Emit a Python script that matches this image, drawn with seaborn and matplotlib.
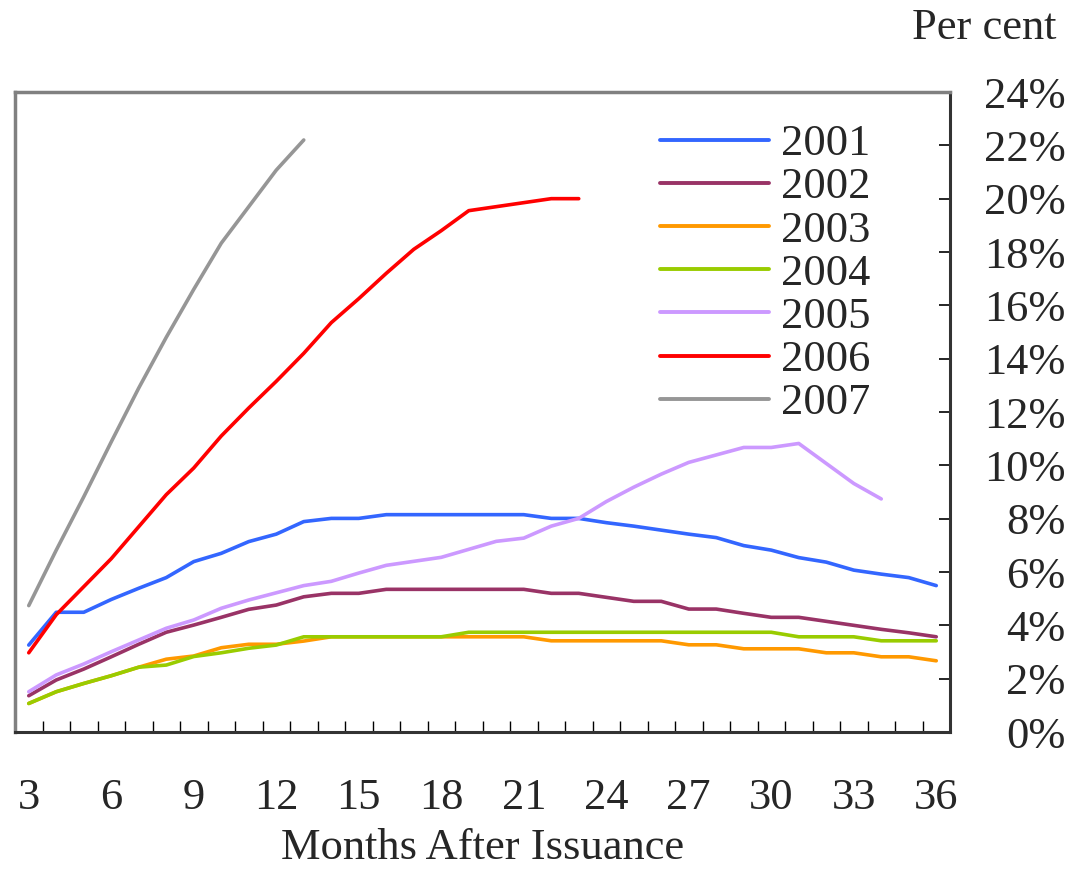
import numpy as np
import pandas as pd
import matplotlib
matplotlib.use("Agg")
import matplotlib.pyplot as plt
import seaborn as sns

# Months after issuance (category axis) and the yearly series, in per cent
months = list(range(3, 37))
tick_months = list(range(3, 37, 3))

rate_2001 = [3.26, 4.49, 4.49, 4.97, 5.39, 5.79, 6.39, 6.7, 7.14, 7.42, 7.89, 8.01, 8.01,
             8.15, 8.15, 8.15, 8.15, 8.15, 8.15, 8.01, 8.01, 7.85, 7.72, 7.57, 7.42, 7.29,
             6.99, 6.82, 6.54, 6.37, 6.07, 5.92, 5.79, 5.49]
rate_2002 = [1.36, 1.95, 2.36, 2.82, 3.29, 3.74, 4.01, 4.3, 4.6, 4.76, 5.07, 5.2, 5.2,
             5.35, 5.35, 5.35, 5.35, 5.35, 5.35, 5.2, 5.2, 5.05, 4.9, 4.9, 4.61, 4.61,
             4.45, 4.3, 4.3, 4.15, 4.0, 3.85, 3.72, 3.57]
rate_2003 = [1.07, 1.51, 1.82, 2.11, 2.43, 2.73, 2.85, 3.16, 3.29, 3.29, 3.41, 3.57, 3.57,
             3.57, 3.57, 3.57, 3.57, 3.57, 3.57, 3.42, 3.42, 3.42, 3.42, 3.42, 3.27, 3.27,
             3.12, 3.12, 3.12, 2.97, 2.97, 2.82, 2.82, 2.67]
rate_2004 = [1.07, 1.51, 1.82, 2.11, 2.43, 2.51, 2.83, 2.97, 3.14, 3.26, 3.57, 3.57, 3.57,
             3.57, 3.57, 3.57, 3.74, 3.74, 3.74, 3.74, 3.74, 3.74, 3.74, 3.74, 3.74, 3.74,
             3.74, 3.74, 3.57, 3.57, 3.57, 3.42, 3.42, 3.42]
rate_2005 = [1.51, 2.14, 2.55, 3.01, 3.45, 3.89, 4.2, 4.64, 4.95, 5.22, 5.49, 5.65, 5.96,
             6.25, 6.4, 6.55, 6.85, 7.15, 7.27, 7.72, 8.01, 8.64, 9.18, 9.67, 10.11, 10.39,
             10.67, 10.67, 10.82, 10.07, 9.32, 8.74]
rate_2006 = [2.97, 4.4, 5.45, 6.5, 7.7, 8.9, 9.9, 11.1, 12.15, 13.15, 14.2, 15.35, 16.25,
             17.2, 18.1, 18.8, 19.55, 19.7, 19.85, 20.0, 20.0]
rate_2007 = [4.74, 6.82, 8.82, 10.88, 12.9, 14.8, 16.6, 18.33, 19.7, 21.07, 22.2]

series = {"2001": rate_2001, "2002": rate_2002, "2003": rate_2003, "2004": rate_2004,
          "2005": rate_2005, "2006": rate_2006, "2007": rate_2007}
colors = {"2001": "#3366FF", "2002": "#993366", "2003": "#FF9900", "2004": "#99CC00",
          "2005": "#CC99FF", "2006": "#FF0000", "2007": "#969696"}

# long-form table for seaborn
rows = []
for year, vals in series.items():
    for m, v in zip(months, vals):
        rows.append({"month": m, "rate": v, "year": year})
df = pd.DataFrame(rows)

sns.set_style("white")
plt.rcParams["font.family"] = ["Liberation Serif", "DejaVu Serif"]

fig = plt.figure(figsize=(10.71, 8.69), dpi=100)
ax = fig.add_axes([15 / 1071, 1 - 732 / 869, 935 / 1071, 640 / 869])

sns.lineplot(data=df, x="month", y="rate", hue="year", palette=colors,
             linewidth=2.6, estimator=None, sort=False, ax=ax)

ax.set_xlim(2.5, 36.5)
ax.set_ylim(0, 24)

# x axis: labels every 3 months, tick marks between categories
ax.set_xticks(tick_months)
ax.set_xticklabels([str(m) for m in tick_months], fontsize=32)
ax.set_xticks(np.arange(2.5, 37, 1), minor=True)
ax.tick_params(axis="x", which="major", length=0, pad=33)
ax.tick_params(axis="x", which="minor", direction="in", length=8, width=1, color="black",
               bottom=True)
ax.set_xlabel("Months After Issuance", fontsize=32, labelpad=7)

# y axis on the right
ax.yaxis.tick_right()
ax.set_yticks(range(0, 25, 2))
ax.set_yticklabels([f"{v}%" for v in range(0, 25, 2)], fontsize=32)
ax.tick_params(axis="y", direction="in", length=8, width=1.2, color="black", pad=83)
for lbl in ax.get_yticklabels():
    lbl.set_horizontalalignment("right")
ax.set_ylabel("")

# frame
for side in ["left", "top"]:
    ax.spines[side].set_color("#808080")
    ax.spines[side].set_linewidth(2.5)
for side in ["bottom", "right"]:
    ax.spines[side].set_color("#333333")
    ax.spines[side].set_linewidth(2.2)

handles, labels = ax.get_legend_handles_labels()
ax.legend(handles, labels, loc="upper left", bbox_to_anchor=(660 / 1071, 1 - 124 / 869),
          bbox_transform=fig.transFigure, frameon=False, fontsize=32,
          handlelength=2.45, handletextpad=0.27, labelspacing=0.07, borderaxespad=0,
          borderpad=0)
for line in ax.get_legend().get_lines():
    line.set_linewidth(2.8)

fig.text(1057 / 1071, 1 - 28 / 869, "Per cent", ha="right", va="center", fontsize=32)

fig.savefig("out.png", dpi=100)
